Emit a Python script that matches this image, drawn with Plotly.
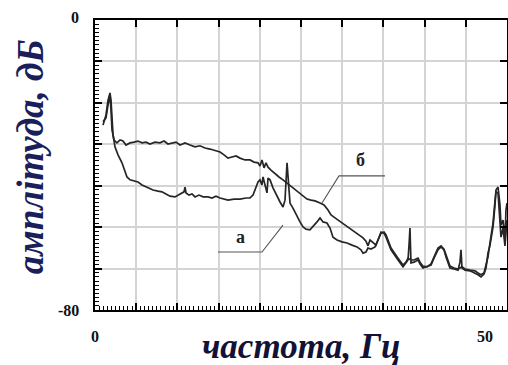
import plotly.graph_objects as go

# ---- data (Hz, dB) ----
freq_a = [1.03,1.41,1.67,1.92,2.05,2.18,2.31,2.56,2.95,3.46,3.85,4.10,4.49,5.00,5.51,6.03,6.79,7.44,8.08,8.59,
          9.10,9.62,10.26,10.64,11.03,11.41,11.54,11.67,12.05,12.44,12.82,13.33,13.85,14.49,15.00,15.51,16.03,16.54,17.05,17.82,
          18.59,19.36,19.87,20.26,20.64,20.90,21.15,21.41,21.54,21.79,22.05,22.18,22.44,22.82,23.33,23.72,24.10,24.36,24.62,24.74,
          25.00,25.38,25.90,26.28,26.67,27.05,27.56,27.95,28.46,28.85,29.23,29.74,30.13,30.51,31.03,31.67,32.31,32.95,33.59,34.10,
          34.36,34.74,35.00,35.38,35.90,36.28,36.67,37.05,37.31,37.95,38.46,38.85,39.49,39.87,40.13,40.26,40.38,40.51,40.90,41.41,
          41.67,42.05,42.56,43.08,43.46,43.97,44.36,44.74,45.00,45.51,46.03,46.54,46.79,46.92,47.05,47.44,48.08,48.72,49.10,49.49,
          49.87,50.13,50.38,50.64,51.03,51.28,51.41,51.67,51.92,52.05,52.31,52.56,52.69,52.82]
amp_a = [-29.0,-26.2,-22.1,-20.1,-22.1,-27.6,-31.7,-35.0,-37.2,-39.4,-41.9,-43.3,-44.1,-44.4,-44.7,-45.5,-46.3,-46.9,-47.2,-47.4,
         -48.0,-48.6,-48.8,-48.3,-47.7,-47.4,-46.1,-47.7,-48.3,-48.0,-48.8,-48.3,-48.8,-48.8,-49.1,-48.6,-49.1,-49.4,-49.7,-49.4,
         -49.4,-49.1,-49.1,-48.3,-46.3,-44.7,-44.1,-45.5,-43.3,-45.2,-47.7,-43.6,-44.1,-46.3,-48.8,-50.2,-51.6,-49.7,-39.4,-42.8,
         -50.5,-51.9,-54.3,-55.7,-57.1,-57.7,-57.9,-56.8,-55.7,-54.6,-55.7,-56.0,-57.4,-59.9,-60.7,-61.2,-61.5,-62.1,-62.6,-63.4,
         -64.3,-64.0,-62.9,-63.2,-62.6,-60.7,-58.5,-58.8,-59.9,-63.4,-64.8,-66.2,-68.1,-67.0,-66.2,-62.1,-57.4,-67.0,-66.8,-66.2,
         -67.3,-68.4,-67.9,-67.6,-65.7,-63.4,-62.6,-63.4,-65.4,-68.4,-68.7,-69.0,-66.8,-63.4,-68.4,-69.0,-69.2,-69.8,-70.3,-70.9,
         -70.1,-68.4,-64.3,-62.1,-57.1,-51.0,-46.9,-46.1,-51.0,-56.6,-55.2,-60.7,-52.4,-50.5]

freq_b = [1.03,1.41,1.67,1.92,2.05,2.18,2.44,2.82,3.21,3.59,3.97,4.49,5.00,5.51,6.03,6.54,7.05,7.69,8.33,8.85,
          9.36,9.87,10.38,10.90,11.54,12.18,12.82,13.46,14.10,14.74,15.38,16.03,16.54,17.05,17.56,18.08,18.59,19.23,19.87,20.38,
          20.90,21.15,21.41,21.67,21.92,22.18,22.56,23.08,23.59,24.10,24.62,25.13,25.64,26.15,26.67,27.18,27.69,28.21,28.85,29.36,
          29.87,30.26,30.77,31.28,31.79,32.31,32.82,33.33,33.85,34.36,34.74,35.00,35.26,35.64,36.03,36.28,36.67,37.05,37.31,37.95,
          38.46,38.85,39.49,39.87,40.13,40.51,40.90,41.41,41.67,42.05,42.56,43.08,43.46,43.97,44.36,44.74,45.00,45.51,46.03,46.54,
          47.05,47.44,48.08,48.72,49.10,49.49,49.87,50.13,50.38,50.64,51.03,51.28,51.41,51.67,51.92,52.05,52.31,52.56,52.82]
amp_b = [-28.1,-27.0,-23.4,-20.7,-24.8,-30.3,-33.1,-33.9,-33.1,-33.4,-34.5,-33.9,-33.7,-33.4,-33.9,-33.7,-34.2,-33.7,-33.9,-33.4,
         -34.2,-33.9,-33.7,-34.5,-33.9,-34.5,-35.0,-34.7,-35.3,-35.6,-35.9,-36.4,-37.2,-38.1,-37.8,-37.5,-38.1,-38.6,-38.6,-39.2,
         -39.4,-40.3,-38.6,-40.8,-39.4,-40.6,-41.4,-42.5,-43.3,-44.1,-45.0,-45.8,-46.6,-47.7,-48.6,-49.4,-49.7,-49.9,-50.5,-51.0,
         -52.4,-53.8,-54.6,-55.4,-56.3,-57.1,-57.7,-58.5,-59.3,-60.1,-61.0,-62.3,-60.7,-61.5,-62.1,-60.7,-58.8,-58.5,-59.3,-62.9,
         -64.6,-65.7,-67.6,-66.8,-65.7,-66.2,-66.2,-65.7,-66.8,-67.9,-68.1,-67.3,-65.4,-62.9,-62.3,-63.2,-64.8,-67.9,-68.4,-68.7,
         -68.1,-68.7,-69.0,-69.2,-69.8,-70.3,-69.8,-67.9,-65.4,-61.5,-56.0,-49.9,-47.4,-47.7,-54.3,-59.9,-57.4,-62.3,-55.2]

x_tick_labels = ["0", "50"]
x_tick_values = [0, 50]
y_tick_labels = ["0", "-80"]
y_tick_values = [0, -80]

series_labels = ["а", "б"]
label_pos_x = [18.6, 34.1]
label_pos_y = [-59.9, -38.6]
# leader lines: [horizontal start, elbow, point on curve]
leader_a_x = [15.77, 21.41, 24.10]
leader_a_y = [-64.0, -64.0, -56.6]
leader_b_x = [37.18, 31.28, 29.10]
leader_b_y = [-43.0, -43.0, -50.5]

X_MAX = 52.82
GRID_DX = X_MAX / 10
GRID_DY = 80 / 7
grid_x = [i * GRID_DX for i in range(11)]
grid_y = [-80 + i * GRID_DY for i in range(8)]
minor_x = [i * GRID_DX / 10 for i in range(101)]
minor_y = [-80 + i * GRID_DY / 10 for i in range(71)]

line_col = "#262626"
fig = go.Figure()
fig.add_trace(go.Scatter(x=freq_a, y=amp_a, mode="lines",
                         line=dict(color=line_col, width=1.7), showlegend=False, hoverinfo="skip"))
fig.add_trace(go.Scatter(x=freq_b, y=amp_b, mode="lines", xaxis="x2", yaxis="y2",
                         line=dict(color=line_col, width=1.7), showlegend=False, hoverinfo="skip"))
fig.add_trace(go.Scatter(x=leader_a_x, y=leader_a_y, mode="lines",
                         line=dict(color="#555555", width=1.1), showlegend=False, hoverinfo="skip"))
fig.add_trace(go.Scatter(x=leader_b_x, y=leader_b_y, mode="lines",
                         line=dict(color="#555555", width=1.1), showlegend=False, hoverinfo="skip"))

ax_common = dict(showline=True, linecolor="black", linewidth=2, ticks="inside",
                 ticklen=7, tickwidth=1.5, tickcolor="black", showticklabels=False, zeroline=False)

fig.update_layout(
    width=508, height=365,
    margin=dict(l=95, r=1, t=20, b=55),
    paper_bgcolor="white", plot_bgcolor="white",
    xaxis=dict(range=[0, X_MAX], tickmode="array", tickvals=grid_x, showgrid=True,
               gridcolor="#d4d4d4", gridwidth=2,
               minor=dict(tickmode="array", tickvals=minor_x, ticks="inside", ticklen=4,
                          tickwidth=1.2, tickcolor="black", showgrid=False),
               **ax_common),
    yaxis=dict(range=[-80, 0], tickmode="array", tickvals=grid_y, showgrid=True,
               gridcolor="#d4d4d4", gridwidth=2,
               minor=dict(tickmode="array", tickvals=minor_y, ticks="inside", ticklen=4,
                          tickwidth=1.2, tickcolor="black", showgrid=False),
               **ax_common),
    xaxis2=dict(range=[0, X_MAX], overlaying="x", side="top", anchor="y2", tickmode="array",
                tickvals=grid_x, showgrid=False, **ax_common),
    yaxis2=dict(range=[-80, 0], overlaying="y", side="right", anchor="x2", tickmode="array",
                tickvals=grid_y, showgrid=False, **ax_common),
)

tick_font = dict(family="Liberation Serif", size=16, color="#111111")
ann = []
for v, t in zip(y_tick_values, y_tick_labels):
    ann.append(dict(x=0, xref="paper", y=v, yref="y", text="<b>%s</b>" % t, showarrow=False,
                    xanchor="right", yanchor="middle", xshift=-14, yshift=3 if v == 0 else 0, font=tick_font))
for v, t in zip(x_tick_values, x_tick_labels):
    ann.append(dict(x=v, xref="x", y=0, yref="paper", text="<b>%s</b>" % t, showarrow=False,
                    xanchor="center", yanchor="top", yshift=-16, font=tick_font))
for t, lx, ly in zip(series_labels, label_pos_x, label_pos_y):
    ann.append(dict(x=lx, y=ly, xref="x", yref="y", text="<b>%s</b>" % t, showarrow=False,
                    font=dict(family="Liberation Serif", size=18, color="#222222")))
ann.append(dict(x=-0.158, xref="paper", y=0.53, yref="paper", text="<b><i>амплітуда, дБ</i></b>",
                textangle=-90, showarrow=False, xanchor="center", yanchor="middle",
                font=dict(family="Liberation Serif", size=37, color="#1a1f5c")))
ann.append(dict(x=0.5, xref="paper", y=0, yref="paper", text="<b><i>частота, Гц</i></b>",
                showarrow=False, xanchor="center", yanchor="top", yshift=-15,
                font=dict(family="Liberation Serif", size=35, color="#121236")))
fig.update_layout(annotations=ann)

fig.write_html("out.html", config={"displayModeBar": False},
               post_script="document.body.style.margin='0';document.body.style.padding='0';"
                           "document.documentElement.style.overflow='hidden';")
